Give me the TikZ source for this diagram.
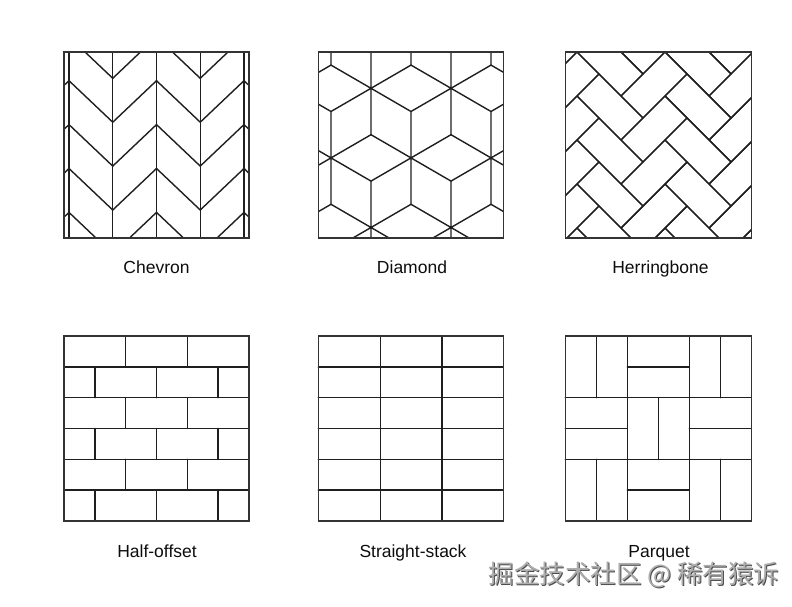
\documentclass[tikz,border=0pt]{standalone}
\usepackage{fontspec}
\setmainfont{Liberation Sans}
\newfontfamily\cjk{Noto Sans CJK SC}
\begin{document}
\begin{tikzpicture}[x=1pt,y=-1pt,
  tile/.style={draw=black!88, line width=1.4pt, line join=round, line cap=round},
  frame/.style={draw=black!80, line width=1.6pt},
  caption/.style={font=\fontsize{17.5}{20}\selectfont, anchor=base, inner sep=0pt, text=black!95}]
\useasboundingbox (0,0) rectangle (792,607);
\fill[white] (0,0) rectangle (792,607);

% ---------- Chevron ----------
\begin{scope}
\clip (64,52.3) rectangle (249,237.7);
\foreach \m in {-2,0,2,4}{
  \foreach \k in {-2,...,5}{
    \draw[tile] ({69+43.75*\m},{36.8+43.9*\k}) -- ({69+43.75*(\m+1)},{36.8+43.9*\k+41.5});
  }
}
\foreach \m in {-1,1,3}{
  \foreach \k in {-2,...,5}{
    \draw[tile] ({69+43.75*\m},{36.8+43.9*\k+41.5}) -- ({69+43.75*(\m+1)},{36.8+43.9*\k});
  }
}
\foreach \m in {0,...,4}{
  \draw[tile] ({69+43.75*\m},52.3) -- ({69+43.75*\m},237.7);
}
\end{scope}
\draw[frame] (64,52.3) rectangle (249,237.7);

% ---------- Diamond ----------
\begin{scope}
\clip (318.3,52.3) rectangle (503.3,237.7);
\foreach \r in {-1,...,3}{
  \foreach \c in {-3,...,3}{
    \pgfmathsetmacro{\cx}{371+40*\r+80*\c}
    \pgfmathsetmacro{\cy}{88.3+69.6*\r}
    \draw[tile] (\cx,\cy-46.4) -- (\cx,\cy+46.4)
                (\cx-40,\cy-23.2) -- (\cx+40,\cy+23.2)
                (\cx-40,\cy+23.2) -- (\cx+40,\cy-23.2);
  }
}
\end{scope}
\draw[frame] (318.3,52.3) rectangle (503.3,237.7);

% ---------- Herringbone ----------
\begin{scope}
\clip (565.3,52.3) rectangle (751.3,237.7);
\begin{scope}[shift={(599,74)}, x={(22pt,-22pt)}, y={(22pt,22pt)}]
\foreach \n in {-3,...,6}{
  \foreach \k in {-2,...,3}{
    \draw[tile] ({\n-1+2*\k},{-\n+2*\k}) -- ++(2,0) -- ++(0,1) -- ++(-2,0) -- cycle;
    \draw[tile] ({\n+2*\k},{-\n+1+2*\k}) -- ++(1,0) -- ++(0,2) -- ++(-1,0) -- cycle;
  }
}
\end{scope}
\end{scope}
\draw[frame] (565.3,52.3) rectangle (751.3,237.7);

% ---------- Half-offset ----------
\foreach \i in {1,...,5}{
  \draw[tile] (64,{336+30.833*\i}) -- (249,{336+30.833*\i});
}
\foreach \i in {0,2,4}{
  \draw[tile] (125.67,{336+30.833*\i}) -- ++(0,30.833);
  \draw[tile] (187.33,{336+30.833*\i}) -- ++(0,30.833);
}
\foreach \i in {1,3,5}{
  \draw[tile] (94.83,{336+30.833*\i}) -- ++(0,30.833);
  \draw[tile] (156.5,{336+30.833*\i}) -- ++(0,30.833);
  \draw[tile] (218.17,{336+30.833*\i}) -- ++(0,30.833);
}
\draw[frame] (64,336) rectangle (249,521);

% ---------- Straight-stack ----------
\foreach \i in {1,...,5}{
  \draw[tile] (318.3,{336+30.833*\i}) -- (503.3,{336+30.833*\i});
}
\draw[tile] (380.2,336) -- (380.2,521);
\draw[tile] (441.8,336) -- (441.8,521);
\draw[frame] (318.3,336) rectangle (503.3,521);

% ---------- Parquet ----------
\draw[tile] (627.3,336) -- (627.3,521);
\draw[tile] (689.3,336) -- (689.3,521);
\draw[tile] (565.3,397.67) -- (751.3,397.67);
\draw[tile] (565.3,459.33) -- (751.3,459.33);
% corner blocks: vertical split
\draw[tile] (596.3,336) -- (596.3,397.67);
\draw[tile] (720.3,336) -- (720.3,397.67);
\draw[tile] (596.3,459.33) -- (596.3,521);
\draw[tile] (720.3,459.33) -- (720.3,521);
% centre block: vertical split
\draw[tile] (658.3,397.67) -- (658.3,459.33);
% edge blocks: horizontal split
\draw[tile] (627.3,366.83) -- (689.3,366.83);
\draw[tile] (627.3,490.17) -- (689.3,490.17);
\draw[tile] (565.3,428.5) -- (627.3,428.5);
\draw[tile] (689.3,428.5) -- (751.3,428.5);
\draw[frame] (565.3,336) rectangle (751.3,521);

% ---------- Captions ----------
\node[caption] (lchev) at (156.5,273) {Chevron};
\node[caption] (ldia)  at (412,273) {Diamond};
\node[caption] (lher)  at (660.5,273) {Herringbone};
\node[caption] (lhalf) at (157,557) {Half-offset};
\node[caption] (lstr)  at (413,557) {Straight-stack};
\node[caption] (lpar)  at (659,557) {Parquet};

% ---------- Watermark ----------
\node[font=\cjk\fontsize{25.5}{28}\selectfont, text=black!70, anchor=west, inner sep=0pt] (wmshadow) at (489.3,575.8) {掘金技术社区 @ 稀有猿诉};
\node[font=\cjk\fontsize{25.5}{28}\selectfont, text=black!32, anchor=west, inner sep=0pt] (wm) at (488.5,575) {掘金技术社区 @ 稀有猿诉};
\end{tikzpicture}
\end{document}
